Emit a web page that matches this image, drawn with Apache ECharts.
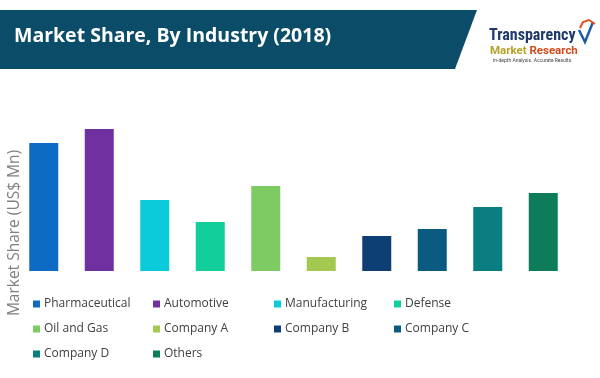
<!DOCTYPE html>
<html><head><meta charset="utf-8">
<script src="https://cdn.jsdelivr.net/npm/echarts@6/dist/echarts.min.js"></script>
<style>html,body{margin:0;padding:0;background:#fff}#c{width:600px;height:378px}</style>
</head><body><div id="c"></div>
<script>
const categories = ['Pharmaceutical','Automotive','Manufacturing','Defense','Oil and Gas','Company A','Company B','Company C','Company D','Others'];
const values = [128, 142, 71, 49, 85, 14, 35, 42, 64, 78];
const colors = ['#0E6BC4','#7030A0','#0BCBDB','#12CE9A','#7ECB64','#A4C850','#0D3F74','#0B5A80','#0A7E80','#0D7C5A'];
const legendCols = [33, 153, 274, 394];
const legendRows = [304, 329, 354];

const chart = echarts.init(document.getElementById('c'), null, {renderer:'canvas'});
const series = categories.map((name, i) => ({
  name, type: 'bar', barWidth: 29, barGap: '-100%',
  itemStyle: {color: colors[i]},
  data: categories.map((_, j) => j === i ? values[i] : '-'),
  silent: true
}));
const legends = categories.map((name, i) => ({
  data: [name], left: legendCols[i % 4], top: legendRows[Math.floor(i / 4)] - 8,
  icon: 'rect', itemWidth: 7, itemHeight: 7, itemGap: 0, padding: 0,
  selectedMode: false,
  textStyle: {fontFamily: 'Open Sans', fontSize: 12, color: '#404040', lineHeight: 16, padding: [0,0,0,-1]}
}));
chart.setOption({
  animation: false,
  grid: {left: 16, width: 555, top: 121, bottom: 107},
  xAxis: {type: 'category', data: categories, axisLine: {show: false}, axisTick: {show: false}, axisLabel: {show: false}},
  yAxis: {type: 'value', min: 0, max: 150, show: false},
  legend: legends,
  series,
  graphic: [
    {type: 'polygon', shape: {points: [[0,10],[477,10],[455,69],[0,69]]}, style: {fill: '#0B4D68'}},
    {type: 'text', left: 14, top: 26, style: {text: 'Market Share, By Industry (2018)', fill: '#fff', font: 'bold 19.5px "Open Sans"'}},
    {type: 'text', x: 489, y: 28, style: {text: 'Transparency', fill: '#1F3A6A', font: 'bold 16px "Liberation Sans Narrow", "Roboto Condensed", Roboto', letterSpacing: -0.3}},
    {type: 'text', x: 490, y: 45, style: {rich: {a: {fill: '#B5A22A', font: 'bold 11.5px "Liberation Sans Narrow", Roboto'}, b: {fill: '#D24A1A', font: 'bold 11.5px "Liberation Sans Narrow", Roboto'}}, text: '{a|Market }{b|Research}'}},
    {type: 'text', x: 493, y: 58, style: {text: 'In-depth Analysis. Accurate Results', fill: '#444', font: '5px Roboto'}},
    {type: 'polyline', shape: {points: [[579,30],[585,42],[593,22]]}, style: {stroke: '#1F5AA6', lineWidth: 2.5, fill: null}},
    {type: 'polyline', shape: {points: [[580,28],[583,22],[589,20],[595,24]]}, style: {stroke: '#E0501A', lineWidth: 2, fill: null}},
    {type: 'text', x: 15, y: 233, rotation: Math.PI / 2, style: {text: 'Market Share (US$ Mn)', fill: '#808080', font: '15.5px "Open Sans"', align: 'center', verticalAlign: 'middle'}}
  ]
});
</script></body></html>
